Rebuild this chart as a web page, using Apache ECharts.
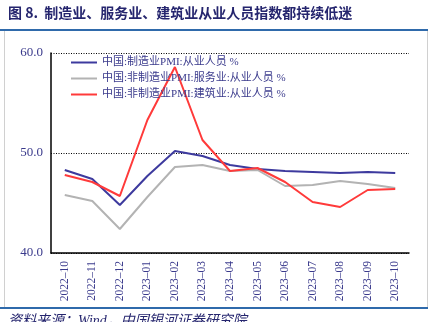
<!DOCTYPE html>
<html><head><meta charset="utf-8">
<script src="https://cdn.jsdelivr.net/npm/echarts@6/dist/echarts.min.js"></script>
<style>html,body{margin:0;padding:0;background:#fff}#c{width:428px;height:322px}</style>
</head><body><div id="c"></div>
<script>
const categories = ["2022-10","2022-11","2022-12","2023-01","2023-02","2023-03","2023-04","2023-05","2023-06","2023-07","2023-08","2023-09","2023-10"];
const manufacturing = [48.3,47.4,44.8,47.7,50.2,49.7,48.8,48.4,48.2,48.1,48.0,48.1,48.0];
const services = [45.8,45.2,42.4,45.6,48.6,48.8,48.2,48.3,46.7,46.8,47.2,46.9,46.5];
const construction = [47.8,47.1,45.7,53.3,58.6,51.3,48.2,48.5,47.1,45.1,44.6,46.3,46.4];
const seriesNames = ["中国:制造业PMI:从业人员 %","中国:非制造业PMI:服务业:从业人员 %","中国:非制造业PMI:建筑业:从业人员 %"];
const yTicks = {min:40, max:60, interval:10};

const txt = '#3a3a8c';
const chart = echarts.init(document.getElementById('c'));
chart.setOption({
  animation:false,
  grid:{left:51,right:19,top:53,bottom:69},
  legend:{
    left:66, top:52, orient:'vertical', itemGap:5, itemWidth:26, itemHeight:12,
    icon:'path://M0,5 L26,5 L26,7 L0,7 Z',
    textStyle:{fontFamily:'Liberation Serif, Noto Sans CJK SC', fontSize:11, color:txt},
    data:seriesNames
  },
  xAxis:{
    type:'category', data:categories, boundaryGap:true,
    axisLine:{lineStyle:{color:'#000',width:1.5}},
    axisTick:{inside:true,length:3,lineStyle:{color:'#000'}},
    axisLabel:{rotate:90, margin:8, fontFamily:'Liberation Serif', fontSize:11.5, color:txt,
      formatter:v=>v.replace('-','–')},
    splitLine:{show:false}
  },
  yAxis:{
    type:'value', min:yTicks.min, max:yTicks.max, interval:yTicks.interval,
    axisLine:{show:true,lineStyle:{color:'#000',width:1.5}},
    axisTick:{show:false},
    axisLabel:{margin:8, fontFamily:'Liberation Serif', fontSize:13, color:txt, formatter:v=>v.toFixed(1)},
    splitLine:{show:true,lineStyle:{color:'#000',type:[1,1.5],width:1}}
  },
  series:[
    {name:seriesNames[0],type:'line',data:manufacturing,symbol:'none',lineStyle:{color:'#3d3a9e',width:2},itemStyle:{color:'#3d3a9e'}},
    {name:seriesNames[1],type:'line',data:services,symbol:'none',lineStyle:{color:'#b3b3b3',width:2},itemStyle:{color:'#b3b3b3'}},
    {name:seriesNames[2],type:'line',data:construction,symbol:'none',lineStyle:{color:'#ff3a3a',width:2},itemStyle:{color:'#ff3a3a'}}
  ],
  graphic:[
    {type:'text',left:8,top:6,style:{text:'图 8.  制造业、服务业、建筑业从业人员指数都持续低迷',font:'bold 14px "Noto Sans CJK SC"',fill:'#25256e'}},
    {type:'rect',shape:{x:0,y:29,width:428,height:2},style:{fill:'#2f6aab'},silent:true},
    {type:'rect',shape:{x:0,y:307,width:428,height:2},style:{fill:'#2f6aab'},silent:true},
    {type:'line',shape:{x1:4.5,y1:31,x2:4.5,y2:307},style:{stroke:'#d0d0d0',lineWidth:1},silent:true},
    {type:'line',shape:{x1:427.5,y1:31,x2:427.5,y2:307},style:{stroke:'#d0d0d0',lineWidth:1},silent:true},
    {type:'text',left:8,top:314,style:{text:'资料来源：Wind，中国银河证券研究院',font:'italic 14px "Liberation Serif", "Noto Sans CJK SC"',fill:'#25256e'}}
  ]
});
</script></body></html>
